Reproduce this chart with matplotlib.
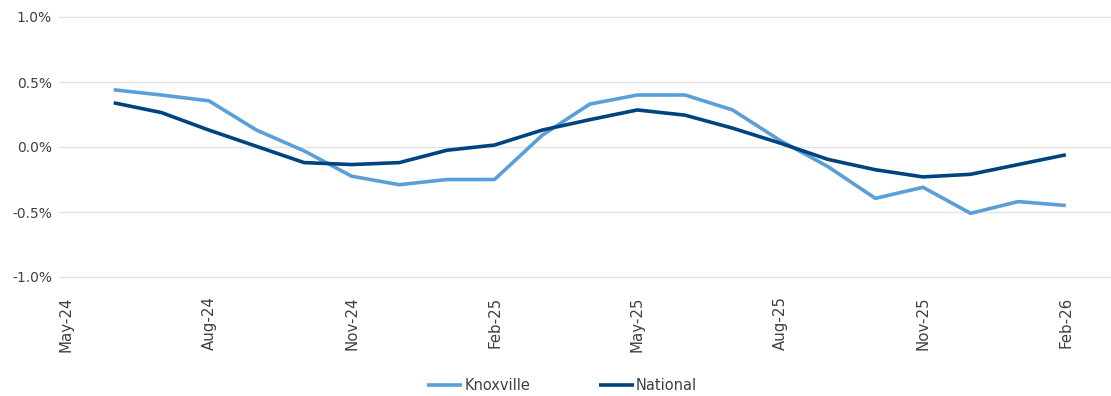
import matplotlib
matplotlib.use("Agg")
import matplotlib.pyplot as plt
from matplotlib.ticker import FuncFormatter

plt.rcParams['font.family'] = ['DejaVu Sans']

# Monthly series, Jun-24 .. Feb-26 (values in percent)
months = ["Jun-24", "Jul-24", "Aug-24", "Sep-24", "Oct-24", "Nov-24", "Dec-24",
          "Jan-25", "Feb-25", "Mar-25", "Apr-25", "May-25", "Jun-25", "Jul-25",
          "Aug-25", "Sep-25", "Oct-25", "Nov-25", "Dec-25", "Jan-26", "Feb-26"]
knoxville = [0.44, 0.40, 0.355, 0.13, -0.03, -0.225, -0.29, -0.25, -0.25, 0.09,
             0.33, 0.40, 0.40, 0.285, 0.05, -0.15, -0.395, -0.31, -0.51, -0.42, -0.45]
national = [0.34, 0.265, 0.13, 0.005, -0.12, -0.135, -0.12, -0.025, 0.015, 0.13,
            0.21, 0.285, 0.245, 0.145, 0.03, -0.095, -0.175, -0.23, -0.21, -0.135, -0.06]

tick_labels = ["May-24", "Aug-24", "Nov-24", "Feb-25", "May-25", "Aug-25", "Nov-25", "Feb-26"]
y_ticks = [-1.0, -0.5, 0.0, 0.5, 1.0]

light_blue = "#5B9FD8"
navy = "#00447F"
text_grey = "#404040"

fig = plt.figure(figsize=(11.11, 3.96), dpi=100)
ax = fig.add_axes([59 / 1111, 1 - 277 / 396, 1052 / 1111, 260 / 396])

x = list(range(1, len(months) + 1))  # May-24 sits at position 0
ax.plot(x, knoxville, color=light_blue, lw=2.6, label="Knoxville", solid_capstyle="butt")
ax.plot(x, national, color=navy, lw=2.6, label="National", solid_capstyle="butt")

ax.set_xlim(-0.15, 21.95)
ax.set_ylim(-1.0, 1.0)

for yv in y_ticks:
    ax.axhline(yv, color="#E3E3E3", lw=1.0, zorder=0, clip_on=False)

ax.set_yticks(y_ticks)
ax.yaxis.set_major_formatter(FuncFormatter(lambda v, _: f"{v:.1f}%"))
ax.set_xticks(range(0, 22, 3))
ax.set_xticklabels(tick_labels, rotation=90, va="top", ha="center")

ax.tick_params(axis="y", length=0, pad=5, labelsize=10, labelcolor=text_grey)
ax.tick_params(axis="x", length=0, pad=14, labelsize=10.8, labelcolor=text_grey)

for s in ax.spines.values():
    s.set_visible(False)

fig.legend(loc="center", bbox_to_anchor=(562 / 1111, 1 - 386 / 396), ncol=2,
           frameon=False, fontsize=10.5, handlelength=2.4, handletextpad=0.15,
           columnspacing=4.7, labelcolor=text_grey)

fig.savefig("out.png", dpi=100)
